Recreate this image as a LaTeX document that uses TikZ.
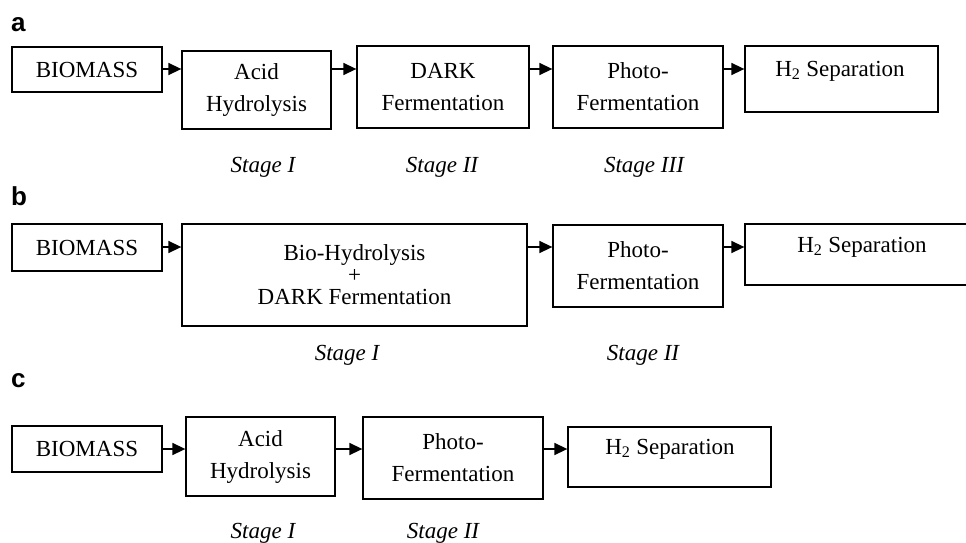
\documentclass[tikz,border=0pt]{standalone}
\usepackage{fontspec}
\setmainfont{Liberation Serif}
\newfontfamily\labfont{Liberation Sans}
\usetikzlibrary{arrows.meta}
\tikzset{
  box/.style={draw, line width=1.3pt, inner sep=0pt, align=center, font=\fontsize{23}{32}\selectfont},
  txt/.style={inner sep=0pt, font=\fontsize{23}{32}\selectfont},
  stagelab/.style={inner sep=0pt, anchor=base, font=\fontsize{23}{28}\selectfont\itshape},
  panel/.style={inner sep=0pt, anchor=base west, font=\labfont\bfseries\fontsize{26}{30}\selectfont},
  arr/.style={line width=1.5pt, -{Triangle[length=13pt,width=12pt]}}
}
\begin{document}
\begin{tikzpicture}[x=1pt,y=-1pt]
\clip (0,0) rectangle (966,543);
% panel letters
\node[panel] (la) at (11,32) {a};
\node[panel] (lb) at (11,205) {b};
\node[panel] (lc) at (11,387) {c};
% ---- row a
\coordinate (ya) at (0,69);
\node[box, minimum width=150pt, minimum height=45pt] (bioA) at (87,69.5) {BIOMASS};
\node[box, minimum width=149pt, minimum height=78pt] (acidA) at (256.5,90) {Acid\\Hydrolysis};
\node[box, minimum width=172pt, minimum height=82pt] (darkA) at (443,87) {DARK\\Fermentation};
\node[box, minimum width=170pt, minimum height=82pt] (photoA) at (638,87) {Photo-\\Fermentation};
\node[box, minimum width=193pt, minimum height=66pt] (h2A) at (841.5,79) {};
\node[txt] (h2At) at (840,71) {H\textsubscript{2} Separation};
\draw[arr] (bioA.east |- ya) -- (acidA.west |- ya);
\draw[arr] (acidA.east |- ya) -- (darkA.west |- ya);
\draw[arr] (darkA.east |- ya) -- (photoA.west |- ya);
\draw[arr] (photoA.east |- ya) -- (h2A.west |- ya);
\node[stagelab] (sa1) at (263,172) {Stage I};
\node[stagelab] (sa2) at (442,172) {Stage II};
\node[stagelab] (sa3) at (644,172) {Stage III};
% ---- row b
\coordinate (yb) at (0,247);
\node[box, minimum width=150pt, minimum height=47pt] (bioB) at (87,247.5) {BIOMASS};
\node[box, minimum width=345pt, minimum height=102pt, font=\fontsize{23}{22}\selectfont] (bigB) at (354.5,275) {Bio-Hydrolysis\\+\\DARK Fermentation};
\node[box, minimum width=170pt, minimum height=82pt] (photoB) at (638,266) {Photo-\\Fermentation};
\node[box, minimum width=230pt, minimum height=61pt] (h2B) at (860,254.5) {};
\node[txt] (h2Bt) at (862,247) {H\textsubscript{2} Separation};
\draw[arr] (bioB.east |- yb) -- (bigB.west |- yb);
\draw[arr] (bigB.east |- yb) -- (photoB.west |- yb);
\draw[arr] (photoB.east |- yb) -- (h2B.west |- yb);
\node[stagelab] (sb1) at (347,360) {Stage I};
\node[stagelab] (sb2) at (643,360) {Stage II};
% ---- row c
\coordinate (yc) at (0,449);
\node[box, minimum width=150pt, minimum height=46pt] (bioC) at (87,449) {BIOMASS};
\node[box, minimum width=149pt, minimum height=79pt] (acidC) at (260.5,456.5) {Acid\\Hydrolysis};
\node[box, minimum width=180pt, minimum height=82pt] (photoC) at (453,458) {Photo-\\Fermentation};
\node[box, minimum width=203pt, minimum height=60pt] (h2C) at (669.5,457) {};
\node[txt] (h2Ct) at (670,449) {H\textsubscript{2} Separation};
\draw[arr] (bioC.east |- yc) -- (acidC.west |- yc);
\draw[arr] (acidC.east |- yc) -- (photoC.west |- yc);
\draw[arr] (photoC.east |- yc) -- (h2C.west |- yc);
\node[stagelab] (sc1) at (263,538) {Stage I};
\node[stagelab] (sc2) at (443,538) {Stage II};
\end{tikzpicture}
\end{document}
